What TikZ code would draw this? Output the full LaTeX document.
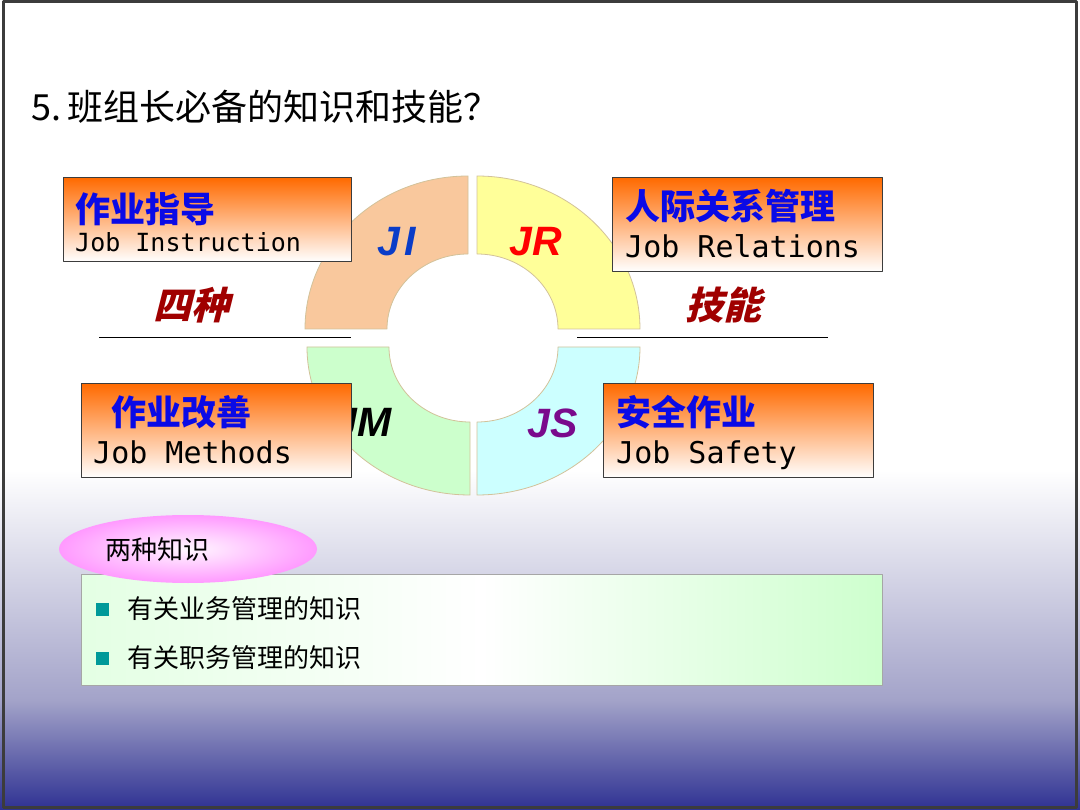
\documentclass[tikz,border=0pt]{standalone}
\usepackage{fontspec}
\setsansfont{Liberation Sans}
\newfontfamily\cjk{Noto Sans CJK SC}
\newfontfamily\cjkslant[FakeSlant=0.25]{Noto Sans CJK SC}
\newfontfamily\monojob{DejaVu Sans Mono}
\usepackage{tikz}
\usetikzlibrary{shapes.geometric,positioning,calc}

\definecolor{bgblue}{HTML}{2E3192}
\definecolor{bgmid}{HTML}{A3A3C9}
\definecolor{framegray}{HTML}{3C3C3C}
\definecolor{jiFill}{HTML}{F9C89D}
\definecolor{jrFill}{HTML}{FFFF99}
\definecolor{jmFill}{HTML}{CCFFCC}
\definecolor{jsFill}{HTML}{CCFFFF}
\definecolor{ringLine}{HTML}{D2C29A}
\definecolor{boxOrange}{HTML}{FF6A00}
\definecolor{cnBlue}{HTML}{0A0AE6}
\definecolor{skillRed}{HTML}{A00000}
\definecolor{jiBlue}{HTML}{0A3CC8}
\definecolor{jsPurple}{HTML}{7A0A8C}
\definecolor{bulletTeal}{HTML}{009999}
\definecolor{tagPink}{HTML}{FF80FF}
\definecolor{knowGreen}{HTML}{C8FFC8}

\begin{document}
\begin{tikzpicture}[x=1pt, y=-1pt, line join=round]
\tikzset{
  skillbox/.style={draw=framegray, line width=1.1pt, top color=boxOrange, bottom color=white, anchor=north west, inner sep=0pt},
  cntitle/.style={anchor=base west, inner sep=0pt, text=cnBlue, font=\cjk\bfseries\fontsize{35}{40}\selectfont},
  entitle/.style={anchor=base west, inner sep=0pt, font=\monojob\fontsize{30}{36}\selectfont},
  jobcode/.style={inner sep=0pt, font=\sffamily\bfseries\itshape\fontsize{41}{46}\selectfont},
  skilltag/.style={inner sep=0pt, text=skillRed, font=\cjkslant\bfseries\fontsize{38}{44}\selectfont},
  bulletsq/.style={fill=bulletTeal, minimum size=13, inner sep=0pt},
  knowtext/.style={anchor=west, inner sep=0pt, font=\cjk\fontsize{26}{30}\selectfont},
}

% Slide background
\useasboundingbox (0,0) rectangle (1080,810);
\fill[white] (0,0) rectangle (1080,810);
\shade[top color=white, bottom color=bgmid] (0,470) rectangle (1080,700);
\shade[top color=bgmid, bottom color=bgblue] (0,700) rectangle (1080,810);
\draw[framegray, line width=3pt] (3,2) rectangle (1076,807);

% Title
\node[anchor=base west, inner sep=0pt, font=\cjk\fontsize{36}{40}\selectfont] (title) at (31,121) {5.\hspace{6pt}班组长必备的知识和技能？};

% Ring of four quarters
\foreach \cx/\cy/\a/\ry/\col in {468/329/180/153/jiFill, 477/329/270/153/jrFill, 477/347/0/148/jsFill, 470/347/90/148/jmFill}
  \filldraw[fill=\col, draw=ringLine, line width=0.8pt]
    ([shift={(\cx,\cy)}]\a:163 and \ry) arc[start angle=\a, delta angle=90, x radius=163, y radius=\ry]
    -- ([shift={(\cx,\cy)}]\a+90:81 and 75) arc[start angle=\a+90, delta angle=-90, x radius=81, y radius=75] -- cycle;

\node[jobcode, text=jiBlue] (codeJI) at (397,242) {J\hspace{4pt}I};
\node[jobcode, text=red] (codeJR) at (536,242) {JR};
\node[jobcode, text=black] (codeJM) at (363,423) {JM};
\node[jobcode, text=jsPurple] (codeJS) at (553,423) {JS};

% Skill boxes
\node[skillbox, minimum width=288, minimum height=84] (boxJI) at (63,177) {};
\node[skillbox, minimum width=270, minimum height=94] (boxJR) at (612,177) {};
\node[skillbox, minimum width=270, minimum height=94] (boxJM) at (81,383) {};
\node[skillbox, minimum width=270, minimum height=94] (boxJS) at (603,383) {};

\node[cntitle] (cnJI) at (75,223) {作业指导};
\node[entitle, font=\monojob\fontsize{25}{30}\selectfont] (enJI) at (75,252) {Job Instruction};
\node[cntitle] (cnJR) at (625,220) {人际关系管理};
\node[entitle] (enJR) at (625,258) {Job Relations};
\node[cntitle] (cnJM) at (111,426) {作业改善};
\node[entitle] (enJM) at (93,464) {Job Methods};
\node[cntitle] (cnJS) at (616,426) {安全作业};
\node[entitle] (enJS) at (616,464) {Job Safety};

% Four skills
\draw[line width=1pt] (99,338) -- (351,338);
\draw[line width=1pt] (577,338) -- (828,338);
\node[skilltag] (tagFour) at (191,305) {四种};
\node[skilltag] (tagSkill) at (723,305) {技能};

% Two kinds of knowledge
\node[draw=gray!70, line width=0.8pt, anchor=north west, minimum width=801, minimum height=111, inner sep=0pt,
  left color=knowGreen!50!white, right color=knowGreen!90!white, middle color=white] (knowBox) at (81,574) {};
\node[ellipse, minimum width=258, minimum height=68, inner sep=0pt, inner color=tagPink!6, outer color=tagPink!80] (knowTag) at (188,549) {};
\node[knowtext] (knowTagText) at (105,550) {两种知识};

\node[bulletsq] (dotA) at (102,609) {};
\node[knowtext] (itemA) at (127,609) {有关业务管理的知识};
\node[bulletsq] (dotB) at (102,658) {};
\node[knowtext] (itemB) at (127,658) {有关职务管理的知识};

\end{tikzpicture}
\end{document}
